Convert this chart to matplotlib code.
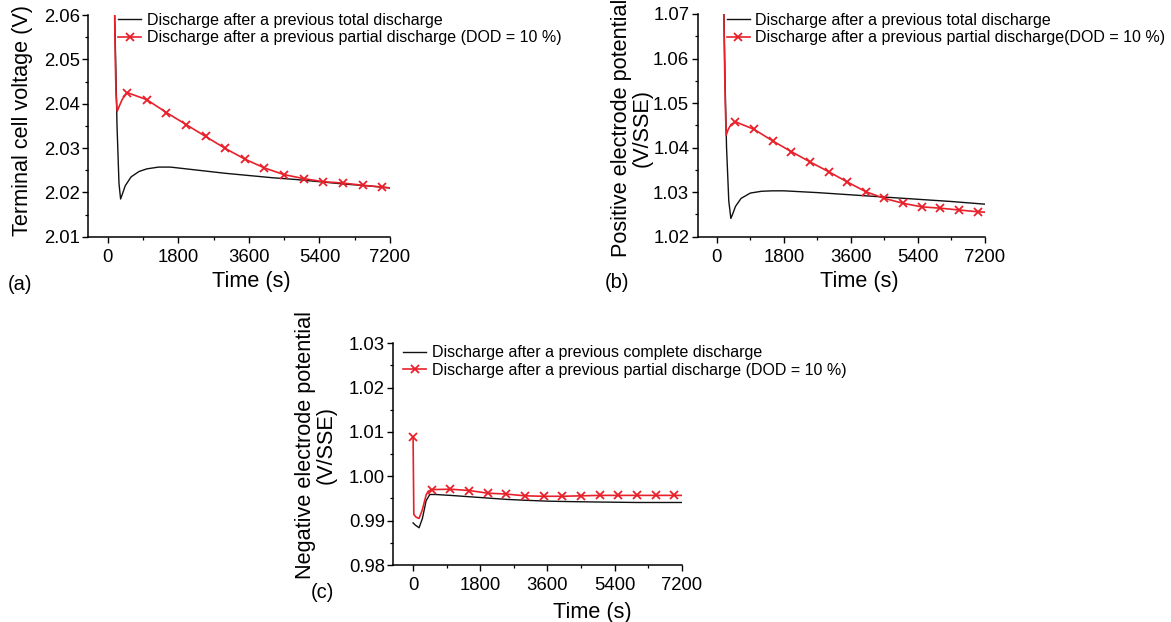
import matplotlib
matplotlib.use('Agg')
import matplotlib.pyplot as plt
from matplotlib.lines import Line2D
from matplotlib.ticker import MultipleLocator

plt.rcParams['font.family'] = ['Liberation Sans', 'DejaVu Sans']

RED = '#e8202a'
BLACK = '#111111'
W, H = 1171, 622

# ---- data ----
# (a) terminal cell voltage (V)
a_total_t = [180, 200, 240, 290, 331, 380, 450, 600, 800, 1000, 1300, 1600, 2000,
             2500, 3000, 3600, 4200, 4800, 5400, 6000, 6600, 7200]
a_total_v = [2.0600, 2.0520, 2.0350, 2.0220, 2.0185, 2.0197, 2.0215, 2.0235, 2.0247,
             2.0253, 2.0257, 2.0257, 2.0253, 2.0248, 2.0243, 2.0238, 2.0233, 2.0229,
             2.0224, 2.0219, 2.0215, 2.0210]
a_start_t = [180, 195, 215, 246, 300, 374]
a_start_v = [2.0600, 2.0500, 2.0420, 2.0383, 2.0395, 2.0410]
a_mark_t = [500, 1000, 1500, 2000, 2500, 3000, 3500, 4000, 4500, 5000, 5500, 6000, 6500, 7000]
a_mark_v = [2.0425, 2.0409, 2.0380, 2.0353, 2.0326, 2.0299, 2.0275, 2.0255, 2.0240,
            2.0231, 2.0224, 2.0221, 2.0216, 2.0212]
a_end_t = [7200]
a_end_v = [2.0210]

# (b) positive electrode potential (V/SSE)
b_total_t = [190, 220, 260, 320, 376, 430, 500, 650, 900, 1200, 1500, 1800, 2700,
             3600, 4500, 5400, 6300, 7200]
b_total_v = [1.0700, 1.0550, 1.0400, 1.0280, 1.0241, 1.0252, 1.0268, 1.0286, 1.0298,
             1.0302, 1.0303, 1.0303, 1.0299, 1.0294, 1.0289, 1.0284, 1.0279, 1.0273]
b_start_t = [185, 205, 225, 250, 300, 380]
b_start_v = [1.0700, 1.0600, 1.0500, 1.0428, 1.0440, 1.0452]
b_mark_t = [500, 1000, 1500, 2000, 2500, 3000, 3500, 4000, 4500, 5000, 5500, 6000, 6500, 7000]
b_mark_v = [1.0458, 1.0441, 1.0415, 1.0391, 1.0368, 1.0346, 1.0323, 1.0301, 1.0286,
            1.0275, 1.0267, 1.0264, 1.0260, 1.0256]
b_end_t = [7200]
b_end_v = [1.0255]

# (c) negative electrode potential (V/SSE)
c_total_t = [0, 60, 161, 250, 350, 448, 600, 1000, 1500, 2000, 2500, 3000, 3600,
             4200, 5000, 6000, 7200]
c_total_v = [0.9895, 0.9890, 0.9884, 0.9905, 0.9945, 0.9959, 0.9959, 0.9957, 0.9954,
             0.9951, 0.9948, 0.9946, 0.9944, 0.9943, 0.9942, 0.9941, 0.9941]
c_mark_t = [0, 500, 1000, 1500, 2000, 2500, 3000, 3500, 4000, 4500, 5000, 5500, 6000, 6500, 7000]
c_mark_v = [1.0089, 0.9970, 0.9971, 0.9968, 0.9962, 0.9960, 0.9956, 0.9955, 0.9955,
            0.9956, 0.9957, 0.9957, 0.9957, 0.9957, 0.9957]
c_dip_t = [20, 80, 161, 250, 350, 402]
c_dip_v = [0.9914, 0.9908, 0.9905, 0.9925, 0.9958, 0.9966]
c_end_t = [7200]
c_end_v = [0.9957]

x_ticks = [0, 1800, 3600, 5400, 7200]


def px_rect(left, top, right, bottom):
    return [left / W, 1 - bottom / H, (right - left) / W, (bottom - top) / H]


def draw_panel(fig, rect, xmin, ylim, ystep, tot_t, tot_v, red_t, red_v,
               mark_t, mark_v, labels, leg_xy):
    ax = fig.add_axes(rect)
    ax.plot(tot_t, tot_v, color=BLACK, lw=1.0)
    ax.plot(red_t, red_v, color=RED, lw=1.2)
    ax.plot(mark_t, mark_v, ls='none', marker='x', color=RED, ms=5.5, mew=1.3,
            clip_on=False)
    ax.set_xlim(xmin, 7200)
    ax.set_ylim(*ylim)
    ax.set_xticks(x_ticks)
    ax.xaxis.set_minor_locator(MultipleLocator(900))
    ax.yaxis.set_major_locator(MultipleLocator(ystep))
    ax.yaxis.set_minor_locator(MultipleLocator(ystep / 2))
    ax.yaxis.set_major_formatter(matplotlib.ticker.FormatStrFormatter('%.2f'))
    for s in ['top', 'right']:
        ax.spines[s].set_visible(False)
    for s in ['left', 'bottom']:
        ax.spines[s].set_linewidth(1.1)
    ax.tick_params(which='major', direction='out', length=4.5, width=1.0,
                   labelsize=13.3)
    ax.tick_params(which='minor', direction='out', length=2.2, width=0.9)
    ax.tick_params(axis='x', pad=4)
    ax.tick_params(axis='y', pad=1.5)
    handles = [Line2D([], [], color=BLACK, lw=1.0),
               Line2D([], [], color=RED, lw=1.2, marker='x', ms=5.5, mew=1.3)]
    ax.legend(handles, labels, loc='upper left', frameon=False, fontsize=11.5,
              bbox_to_anchor=(leg_xy[0] / W, 1 - leg_xy[1] / H),
              bbox_transform=fig.transFigure, borderpad=0, borderaxespad=0,
              handlelength=1.45, handletextpad=0.35, labelspacing=0.15)
    return ax


fig = plt.figure(figsize=(W / 100, H / 100), dpi=100)

draw_panel(fig, px_rect(88, 15, 390, 236.7), -500, (2.01, 2.06), 0.01,
           a_total_t, a_total_v, a_start_t + a_mark_t + a_end_t,
           a_start_v + a_mark_v + a_end_v, a_mark_t, a_mark_v,
           ['Discharge after a previous total discharge',
            'Discharge after a previous partial discharge (DOD = 10 %)'],
           (118, 13))

draw_panel(fig, px_rect(697.5, 14, 985, 236.7), -520, (1.02, 1.07), 0.01,
           b_total_t, b_total_v, b_start_t + b_mark_t + b_end_t,
           b_start_v + b_mark_v + b_end_v, b_mark_t, b_mark_v,
           ['Discharge after a previous total discharge',
            'Discharge after a previous partial discharge(DOD = 10 %)'],
           (726.5, 13))

draw_panel(fig, px_rect(393.3, 343.3, 681.7, 565), -530, (0.98, 1.03), 0.01,
           c_total_t, c_total_v, c_mark_t[:1] + c_dip_t + c_mark_t[1:] + c_end_t,
           c_mark_v[:1] + c_dip_v + c_mark_v[1:] + c_end_v, c_mark_t, c_mark_v,
           ['Discharge after a previous complete discharge',
            'Discharge after a previous partial discharge (DOD = 10 %)'],
           (403, 345.5))

# axis titles and panel letters
fs_lab = 15.6
fig.text(22.5 / W, 1 - 120 / H, 'Terminal cell voltage (V)', rotation=90,
         ha='center', va='center', fontsize=fs_lab)
fig.text(632 / W, 1 - 128 / H, 'Positive electrode potential\n(V/SSE)', rotation=90,
         ha='center', va='center', fontsize=fs_lab, linespacing=0.95)
fig.text(316 / W, 1 - 445 / H, 'Negative electrode potential\n(V/SSE)', rotation=90,
         ha='center', va='center', fontsize=fs_lab, linespacing=1.0)

fig.text(251.7 / W, 1 - 282 / H, 'Time (s)', ha='center', va='center', fontsize=fs_lab)
fig.text(859 / W, 1 - 281 / H, 'Time (s)', ha='center', va='center', fontsize=fs_lab)
fig.text(592.5 / W, 1 - 612.5 / H, 'Time (s)', ha='center', va='center', fontsize=fs_lab)

fig.text(20 / W, 1 - 284 / H, '(a)', ha='center', va='center', fontsize=14.5)
fig.text(617 / W, 1 - 283 / H, '(b)', ha='center', va='center', fontsize=14.5)
fig.text(322 / W, 1 - 593 / H, '(c)', ha='center', va='center', fontsize=14.5)

fig.savefig('out.png', dpi=100)
